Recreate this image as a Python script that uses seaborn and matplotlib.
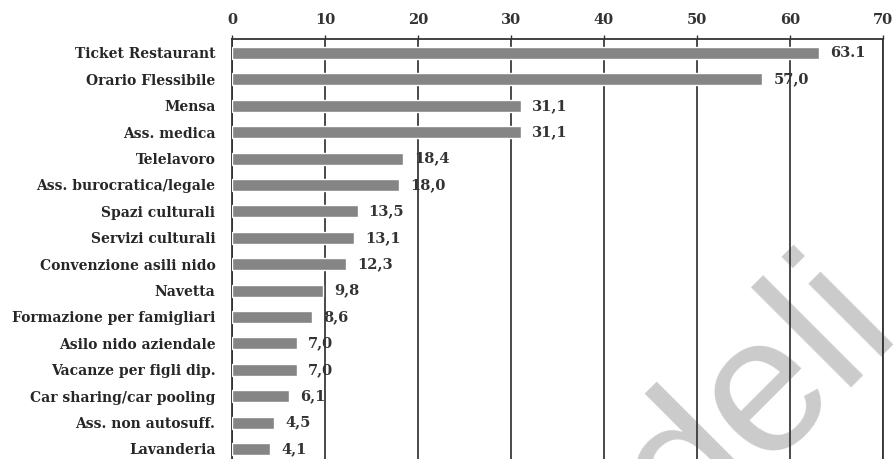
import matplotlib
matplotlib.use("Agg")
import matplotlib.pyplot as plt
import seaborn as sns
import pandas as pd

categories = ["Ticket Restaurant", "Orario Flessibile", "Mensa", "Ass. medica",
              "Telelavoro", "Ass. burocratica/legale", "Spazi culturali",
              "Servizi culturali", "Convenzione asili nido", "Navetta",
              "Formazione per famigliari", "Asilo nido aziendale",
              "Vacanze per figli dip.", "Car sharing/car pooling",
              "Ass. non autosuff.", "Lavanderia"]
values = [63.1, 57.0, 31.1, 31.1, 18.4, 18.0, 13.5, 13.1, 12.3, 9.8, 8.6,
          7.0, 7.0, 6.1, 4.5, 4.1]
value_labels = ["63.1", "57,0", "31,1", "31,1", "18,4", "18,0", "13,5", "13,1",
                "12,3", "9,8", "8,6", "7,0", "7,0", "6,1", "4,5", "4,1"]
x_ticks = [0, 10, 20, 30, 40, 50, 60, 70]

df = pd.DataFrame({"cat": categories, "val": values})

sns.set_style("white")
plt.rcParams["font.family"] = ["DejaVu Serif", "Liberation Serif"]

fig = plt.figure(figsize=(8.94, 4.59), dpi=100)
ax = fig.add_axes([232 / 894, 0.0, (883 - 232) / 894, 1 - 39 / 459])

sns.barplot(data=df, x="val", y="cat", orient="h", color="#858585",
            width=0.45, saturation=1, ax=ax, zorder=3)

# value labels
for i, (v, lab) in enumerate(zip(values, value_labels)):
    ax.text(v + 1.2, i, lab, va="center", ha="left", fontsize=10.5,
            fontweight="bold", color="#333333", zorder=4)

ax.set_xlim(0, 70)
ax.set_ylim(15.38, -0.53)
ax.set_xlabel("")
ax.set_ylabel("")

ax.xaxis.tick_top()
ax.set_xticks(x_ticks)
ax.set_xticklabels([str(t) for t in x_ticks], fontsize=10.5,
                   fontweight="bold", color="#333333")
ax.tick_params(axis="x", length=3, width=1, color="#333333", pad=6)

ax.set_yticks(range(len(categories)))
ax.set_yticklabels(categories, fontsize=10, fontweight="bold", color="#262626")
ax.tick_params(axis="y", which="major", length=0, pad=12)
ax.set_yticks([i + 0.5 for i in range(len(categories) - 1)], minor=True)
ax.tick_params(axis="y", which="minor", length=4, width=1, color="#333333")

ax.grid(axis="x", color="#3a3a3a", linewidth=1.3)
ax.set_axisbelow(True)

for side in ["top", "left", "right"]:
    ax.spines[side].set_visible(True)
    ax.spines[side].set_color("#333333")
    ax.spines[side].set_linewidth(1.3)
ax.spines["bottom"].set_visible(False)

# watermark
ax.text(687 / 894, 1 - 543 / 459, "deli", transform=fig.transFigure,
        rotation=45, rotation_mode="anchor", ha="left", va="baseline",
        fontsize=140, family="Liberation Sans", color="#cbcbcb",
        zorder=0.2, clip_on=False)

fig.savefig("out.png", dpi=100)
